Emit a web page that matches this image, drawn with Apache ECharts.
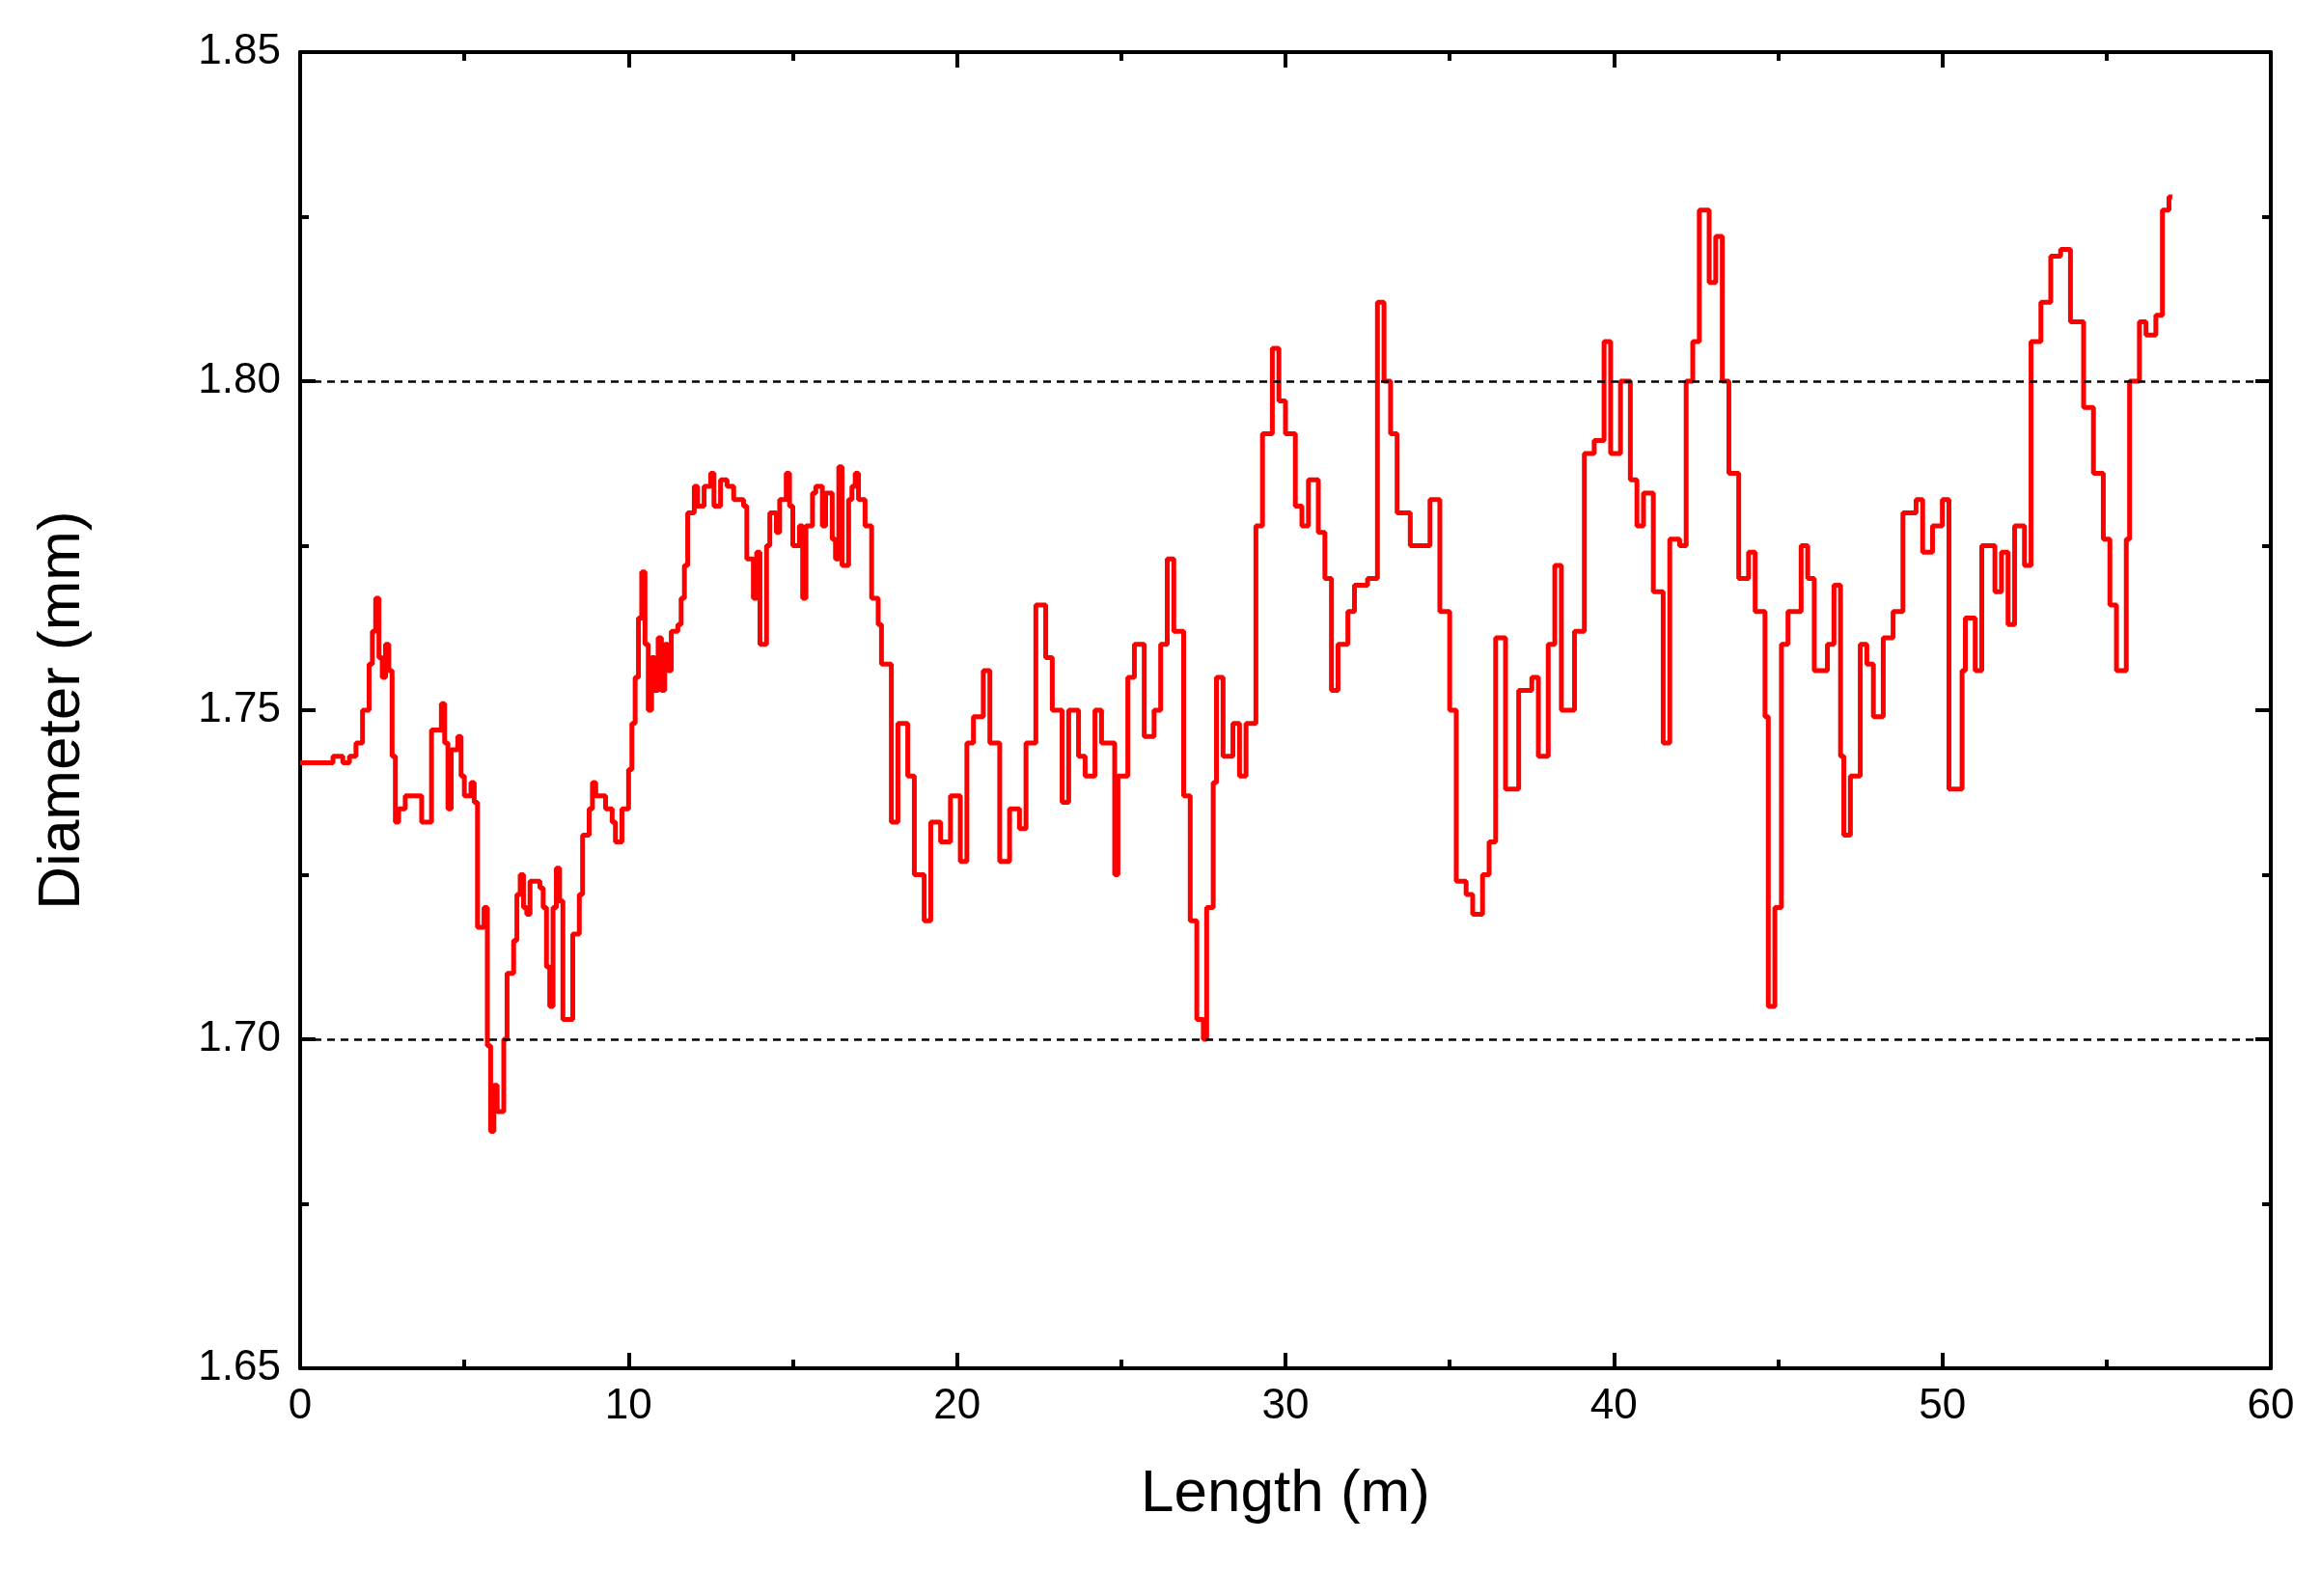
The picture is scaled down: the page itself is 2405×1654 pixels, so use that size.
<!DOCTYPE html>
<html>
<head>
<meta charset="utf-8">
<script src="https://cdn.jsdelivr.net/npm/echarts@6/dist/echarts.min.js"></script>
<style>html,body{margin:0;background:#fff}#c{width:2405px;height:1654px}</style>
</head>
<body>
<div id="c"></div>
<script>
var lengthM = [0,0.5,1.0,1.3,1.5,1.7,1.9,2.1,2.2,2.3,2.4,2.5,2.6,2.7,2.8,2.9,3.0,3.2,3.5,3.7,3.9,4.0,4.3,4.4,4.5,4.6,4.8,4.9,5.0,5.2,5.3,5.4,5.6,5.7,5.8,5.9,6.0,6.2,6.3,6.5,6.6,6.7,6.8,6.9,7.0,7.3,7.4,7.5,7.6,7.7,7.8,7.9,8.0,8.2,8.3,8.5,8.6,8.8,8.9,9.0,9.3,9.5,9.6,9.8,10.0,10.1,10.2,10.3,10.4,10.5,10.6,10.7,10.8,10.9,11.0,11.1,11.2,11.3,11.5,11.6,11.7,11.8,12.0,12.1,12.3,12.5,12.6,12.8,13.0,13.2,13.5,13.6,13.8,13.9,14.0,14.2,14.3,14.5,14.6,14.8,14.9,15.0,15.2,15.3,15.4,15.6,15.7,15.9,16.0,16.2,16.3,16.4,16.5,16.7,16.8,16.9,17.0,17.2,17.4,17.6,17.7,18.0,18.2,18.5,18.7,19.0,19.2,19.5,19.8,20.1,20.3,20.5,20.8,21.0,21.3,21.6,21.9,22.1,22.4,22.7,22.9,23.2,23.4,23.7,23.9,24.2,24.4,24.8,24.9,25.2,25.4,25.7,26.0,26.2,26.4,26.6,26.9,27.1,27.3,27.5,27.6,27.8,27.9,28.1,28.4,28.6,28.8,29.1,29.3,29.6,29.8,30.0,30.3,30.5,30.7,31.0,31.2,31.4,31.6,31.9,32.1,32.5,32.8,33.0,33.2,33.4,33.8,34.1,34.4,34.7,35.0,35.2,35.5,35.7,36.0,36.2,36.4,36.7,37.1,37.5,37.7,38.0,38.2,38.4,38.8,39.1,39.4,39.7,39.9,40.2,40.5,40.7,40.9,41.2,41.5,41.7,42.0,42.2,42.4,42.6,42.9,43.1,43.3,43.5,43.8,44.1,44.3,44.6,44.7,44.9,45.1,45.3,45.7,45.9,46.1,46.5,46.7,46.9,47.0,47.2,47.5,47.7,47.9,48.2,48.5,48.8,49.2,49.4,49.7,50.0,50.2,50.6,50.7,51.0,51.2,51.6,51.8,52.0,52.2,52.5,52.7,53.0,53.3,53.6,53.9,54.3,54.6,54.9,55.1,55.3,55.6,55.7,56.0,56.2,56.5,56.7,56.9,57.0];
var diameter = [1.742,1.742,1.743,1.742,1.743,1.745,1.750,1.757,1.762,1.767,1.758,1.755,1.760,1.756,1.743,1.733,1.735,1.737,1.737,1.733,1.733,1.747,1.751,1.745,1.735,1.744,1.746,1.740,1.737,1.739,1.736,1.717,1.720,1.699,1.686,1.693,1.689,1.700,1.710,1.715,1.722,1.725,1.720,1.719,1.724,1.723,1.720,1.711,1.705,1.720,1.726,1.721,1.703,1.703,1.716,1.722,1.731,1.735,1.739,1.737,1.735,1.733,1.730,1.735,1.741,1.748,1.755,1.764,1.771,1.760,1.750,1.758,1.753,1.761,1.753,1.760,1.756,1.762,1.763,1.767,1.772,1.780,1.784,1.781,1.784,1.786,1.781,1.785,1.784,1.782,1.781,1.773,1.767,1.774,1.760,1.775,1.780,1.777,1.782,1.786,1.781,1.775,1.778,1.767,1.778,1.783,1.784,1.778,1.783,1.776,1.773,1.787,1.772,1.782,1.784,1.786,1.782,1.778,1.767,1.763,1.757,1.733,1.748,1.740,1.725,1.718,1.733,1.730,1.737,1.727,1.745,1.749,1.756,1.745,1.727,1.735,1.732,1.745,1.766,1.758,1.750,1.736,1.750,1.743,1.740,1.750,1.745,1.725,1.740,1.755,1.760,1.746,1.750,1.760,1.773,1.762,1.737,1.718,1.703,1.700,1.720,1.739,1.755,1.743,1.748,1.740,1.748,1.778,1.792,1.805,1.797,1.792,1.781,1.778,1.785,1.777,1.770,1.753,1.760,1.765,1.769,1.770,1.812,1.800,1.792,1.780,1.775,1.775,1.782,1.765,1.750,1.724,1.722,1.719,1.725,1.730,1.761,1.738,1.753,1.755,1.743,1.760,1.772,1.750,1.762,1.789,1.791,1.806,1.789,1.800,1.785,1.778,1.783,1.768,1.745,1.776,1.775,1.800,1.806,1.826,1.815,1.822,1.800,1.786,1.770,1.774,1.765,1.749,1.705,1.720,1.760,1.765,1.775,1.770,1.756,1.760,1.769,1.743,1.731,1.740,1.760,1.757,1.749,1.761,1.765,1.780,1.782,1.774,1.778,1.782,1.738,1.756,1.764,1.756,1.775,1.768,1.774,1.763,1.778,1.772,1.806,1.812,1.819,1.820,1.809,1.796,1.786,1.776,1.766,1.756,1.776,1.800,1.809,1.807,1.810,1.826,1.828,1.828];
var limitLines = [1.70, 1.80];

var points = lengthM.map(function (x, i) { return [x, diameter[i]]; });
var font = 'Liberation Sans, Arial, sans-serif';

function axisBase(show) {
    return {
        axisLine: { show: true, onZero: false, lineStyle: { color: '#000', width: 4 } },
        axisTick: { show: true, inside: true, length: 16, lineStyle: { color: '#000', width: 4 } },
        minorTick: { show: true, splitNumber: 2, length: 9, lineStyle: { color: '#000', width: 4 } },
        splitLine: { show: false },
        axisLabel: { show: show, color: '#000', fontSize: 44, fontFamily: font, margin: 18 }
    };
}

var chart = echarts.init(document.getElementById('c'));
chart.setOption({
    backgroundColor: '#fff',
    animation: false,
    grid: { left: 311, right: 52, top: 54, bottom: 236 },
    xAxis: [
        Object.assign(axisBase(true), { type: 'value', min: 0, max: 60, interval: 10, position: 'bottom',
            name: 'Length (m)', nameLocation: 'middle', nameGap: 100,
            nameTextStyle: { fontSize: 62, fontFamily: font, color: '#000' } }),
        Object.assign(axisBase(false), { type: 'value', min: 0, max: 60, interval: 10, position: 'top' })
    ],
    yAxis: [
        Object.assign(axisBase(true), { type: 'value', min: 1.65, max: 1.85, interval: 0.05, position: 'left',
            name: 'Diameter (mm)', nameLocation: 'middle', nameGap: 215,
            nameTextStyle: { fontSize: 62, fontFamily: font, color: '#000' },
            axisLabel: { color: '#000', fontSize: 44, fontFamily: font, margin: 20,
                formatter: function (v) { return v.toFixed(2); } } }),
        Object.assign(axisBase(false), { type: 'value', min: 1.65, max: 1.85, interval: 0.05, position: 'right' })
    ],
    series: [{
        type: 'line',
        step: 'end',
        data: points,
        symbol: 'none',
        lineStyle: { color: '#ff0000', width: 5 },
        markLine: {
            silent: true,
            symbol: 'none',
            label: { show: false },
            lineStyle: { color: '#000', type: [8, 6], width: 2.5 },
            data: limitLines.map(function (v) { return { yAxis: v }; })
        }
    }]
});
</script>
</body>
</html>
